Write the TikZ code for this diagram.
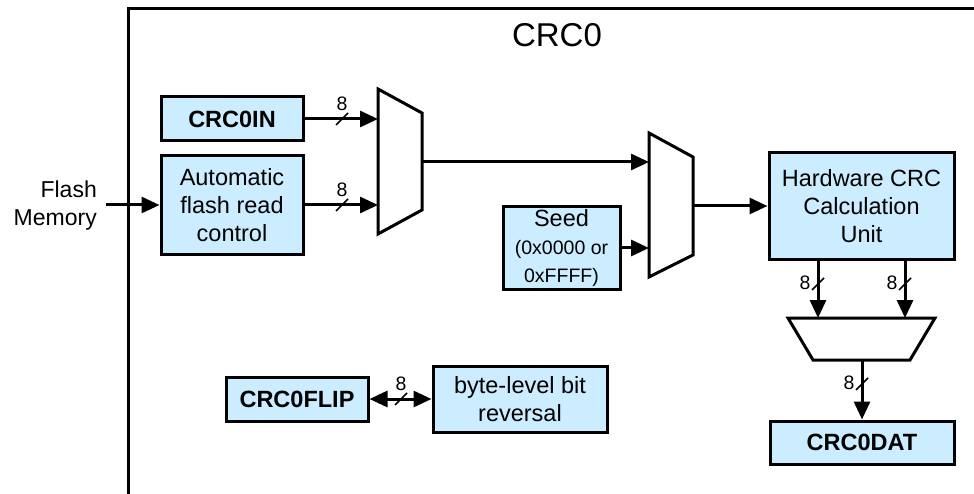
\documentclass[tikz,border=0pt]{standalone}
\usepackage{fontspec}
\setmainfont{Liberation Sans}
\usetikzlibrary{arrows.meta,positioning}

\definecolor{regblue}{RGB}{204,236,255}
\newcommand\seedfont{\fontsize{19.5}{24.5}\selectfont}

\tikzset{
  blk/.style={draw,line width=3pt,fill=regblue,align=center,inner sep=0pt,
    font=\fontsize{23.5}{28}\selectfont},
  reg/.style={blk,font=\fontsize{23.5}{28}\selectfont\bfseries},
  arr/.style={line width=3pt,-{Triangle[length=18pt,width=16pt]}},
  dblarr/.style={line width=3pt,{Triangle[length=18pt,width=16pt]}-{Triangle[length=18pt,width=16pt]}},
  muxline/.style={line width=3pt,line join=miter},
  bus8h/.pic={\draw[line width=1.5pt] (-6,6) -- (6,-6);
    \node[font=\fontsize{19.5}{20}\selectfont] at (0,-15) {8};},
  bus8v/.pic={\draw[line width=1.5pt] (-6,6) -- (6,-6);
    \node[font=\fontsize{19.5}{20}\selectfont] at (-13,-1) {8};}
}

\begin{document}
\begin{tikzpicture}[x=1pt,y=-1pt]
    \useasboundingbox (0,0) rectangle (974,494);
    % outer block
    \draw[line width=3pt] (128,494) -- (128,9) -- (974,9);
    \node[font=\fontsize{33}{33}\selectfont] (title) at (557,35) {CRC0};

    % input side
    \node[reg,minimum width=142,minimum height=44] (crcin) at (232,119) {CRC0IN};
    \node[blk,minimum width=142,minimum height=99] (autord) at (232,205) {Automatic\\flash read\\control};
    \node[align=right,inner sep=0pt,anchor=north east,
      font=\fontsize{23}{28}\selectfont] (flash) at (97,181) {Flash\\Memory};

    % first mux
    \draw[muxline] (378,89) -- (422,113) -- (422,210) -- (378,234) -- cycle;
    \coordinate (mux1a) at (378,119);
    \coordinate (mux1b) at (378,205);
    \coordinate (mux1out) at (422,162);

    % second mux
    \draw[muxline] (649,133) -- (693,157) -- (693,255) -- (649,277) -- cycle;
    \coordinate (mux2a) at (649,162);
    \coordinate (mux2b) at (649,248);
    \coordinate (mux2out) at (693,206);
    \node[blk,minimum width=117,minimum height=83] (seed) at (561.5,248)
      {Seed\\\seedfont(0x0000 or\\\seedfont 0xFFFF)};

    % crc unit and output mux
    \node[blk,minimum width=185,minimum height=107] (hwcrc) at (861.5,206)
      {Hardware CRC\\Calculation\\Unit};
    \draw[muxline] (788,318) -- (935,318) -- (910,360) -- (813,360) -- cycle;
    \coordinate (mux3a) at (818,318);
    \coordinate (mux3b) at (905,318);
    \coordinate (mux3out) at (862,360);
    \node[reg,minimum width=184,minimum height=43] (crcdat) at (862,442.5) {CRC0DAT};

    % bit reversal
    \node[reg,minimum width=142,minimum height=44] (crcflip) at (297,399) {CRC0FLIP};
    \node[blk,minimum width=174,minimum height=66] (bitrev) at (520,399) {byte-level bit\\reversal};

    % connections
    \draw[arr] ([xshift=9pt]flash.east |- autord.west) -- (autord.west);
    \draw[arr] (crcin.east) -- (mux1a);
    \draw[arr] (autord.east) -- (mux1b);
    \draw[arr] (mux1out) -- (mux2a);
    \draw[arr] (seed.east) -- (mux2b);
    \draw[arr] (mux2out) -- (hwcrc.west);
    \draw[arr] (mux3a |- hwcrc.south) -- (mux3a);
    \draw[arr] (mux3b |- hwcrc.south) -- (mux3b);
    \draw[arr] (mux3out) -- (crcdat.north);
    \draw[dblarr] (crcflip.east) -- (bitrev.west);

    % bus widths
    \pic at (342,119) {bus8h};
    \pic at (342,205) {bus8h};
    \pic at (401,399) {bus8h};
    \pic at (818,284) {bus8v};
    \pic at (905,284) {bus8v};
    \pic at (862,384) {bus8v};
\end{tikzpicture}
\end{document}
